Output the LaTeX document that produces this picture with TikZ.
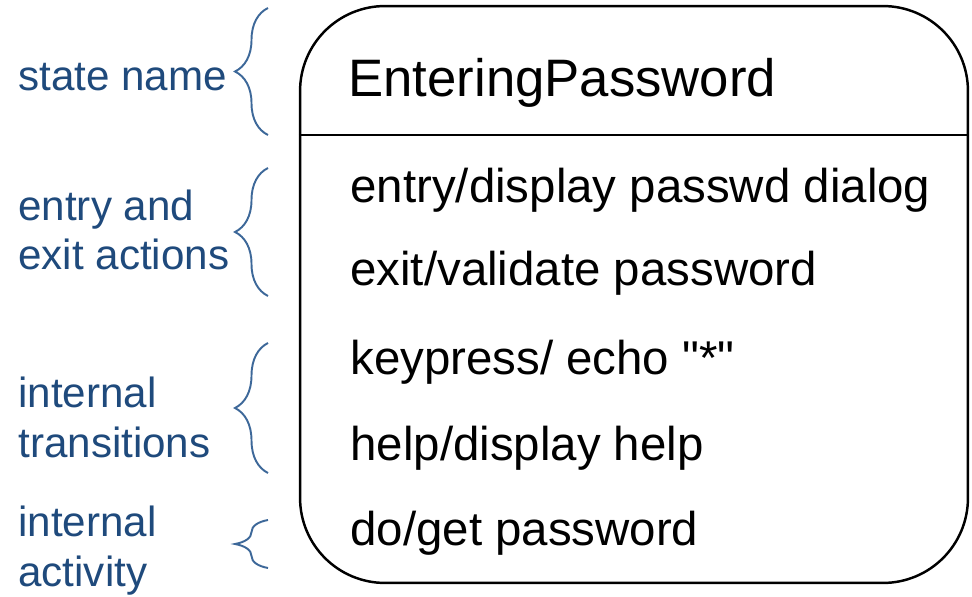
\documentclass[tikz,border=0pt]{standalone}
\usepackage{fontspec}
\setmainfont{Liberation Sans}
\usetikzlibrary{decorations.pathreplacing}
\definecolor{labtext}{HTML}{1F4A7C}
\definecolor{braceedge}{HTML}{3D6899}
\definecolor{stateedge}{HTML}{000000}

\begin{document}
\begin{tikzpicture}[x=0.02cm, y=-0.02cm,
  statebox/.style={rectangle, rounded corners=1.7cm, draw=stateedge, line width=1.4pt,
              minimum width=13.36cm, minimum height=11.54cm, inner sep=0pt},
  title/.style={anchor=base west, inner sep=0pt, font=\fontsize{30}{36}\selectfont},
  act/.style={anchor=base west, inner sep=0pt, font=\fontsize{27}{32}\selectfont},
  lab/.style={anchor=base west, inner sep=0pt, align=left, text=labtext,
              font=\fontsize{24}{28.3}\selectfont},
  curly/.style={draw=braceedge, line width=1.1pt, decorate,
              decoration={brace, amplitude=0.66cm}},
]
\useasboundingbox (0,0) rectangle (972,597);
% ---- state box with name compartment
\node[statebox] (state) at (634, 294.5) {};
\coordinate (divy) at (0, 135);
\draw[line width=1.2pt] (state.west |- divy) -- (state.east |- divy);
\node[title] (name) at (348, 97) {EnteringPassword};
% ---- actions, internal transitions, activity
\node[act] (entry) at (350, 203) {entry/display passwd dialog};
\node[act] (exit) at (350, 286) {exit/validate password};
\node[act] (keypress) at (350, 374) {keypress/ echo \textquotedbl*\textquotedbl};
\node[act] (help) at (350, 460) {help/display help};
\node[act] (do) at (350, 545) {do/get password};
% ---- annotations on the left with braces (base = last line)
\node[lab] (lab_name) at (18, 91) {state name};
\node[lab] (lab_entry) at (18, 270) {entry and\\exit actions};
\node[lab] (lab_trans) at (18, 457) {internal\\transitions};
\node[lab] (lab_do) at (18, 586) {internal\\activity};
\draw[curly] (268, 135) -- (268, 8);
\draw[curly] (268, 296) -- (268, 168);
\draw[curly] (268, 473) -- (268, 343);
\draw[curly] (268, 568) -- (268, 520);
\end{tikzpicture}
\end{document}
